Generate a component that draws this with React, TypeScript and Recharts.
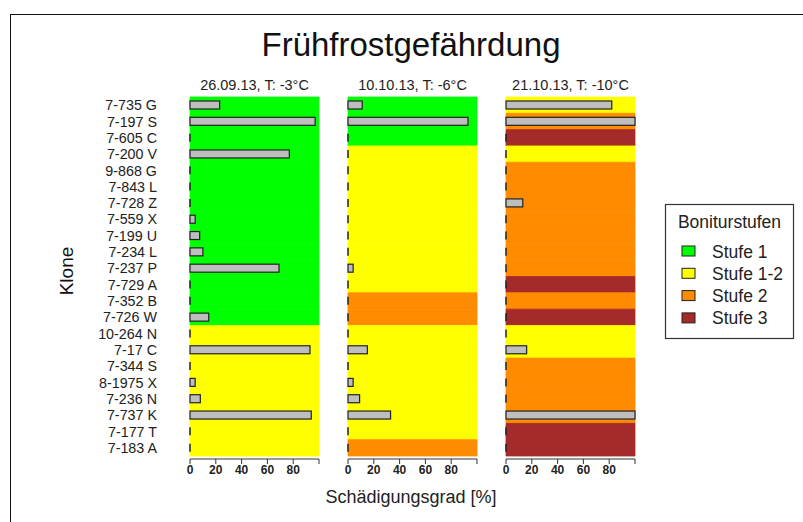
import { BarChart, Bar, XAxis, YAxis, ReferenceArea } from 'recharts';

const klone = [
  '7-735 G', '7-197 S', '7-605 C', '7-200 V', '9-868 G', '7-843 L', '7-728 Z', '7-559 X',
  '7-199 U', '7-234 L', '7-237 P', '7-729 A', '7-352 B', '7-726 W', '10-264 N', '7-17 C',
  '7-344 S', '8-1975 X', '7-236 N', '7-737 K', '7-177 T', '7-183 A',
];

const termine = ['26.09.13, T: -3°C', '10.10.13, T: -6°C', '21.10.13, T: -10°C'];

// Schädigungsgrad in %
const schaden1 = [23, 97, 0, 77, 0, 0, 0, 4, 7.5, 10, 69, 0, 0, 14.5, 0, 93, 0, 4, 8, 94, 0, 0];
const schaden2 = [11, 93, 0, 0, 0, 0, 0, 0, 0, 0, 4, 0, 0, 0, 0, 15, 0, 4, 9, 33, 0, 0];
const schaden3 = [82, 100, 0, 0, 0, 0, 13, 0, 0, 0, 0, 0, 0, 0, 0, 16, 0, 0, 0, 100, 0, 0];

// Boniturstufe je Klon: 0 = Stufe 1, 1 = Stufe 1-2, 2 = Stufe 2, 3 = Stufe 3
const stufe1 = [0, 0, 0, 0, 0, 0, 0, 0, 0, 0, 0, 0, 0, 0, 1, 1, 1, 1, 1, 1, 1, 1];
const stufe2 = [0, 0, 0, 1, 1, 1, 1, 1, 1, 1, 1, 1, 2, 2, 1, 1, 1, 1, 1, 1, 1, 2];
const stufe3 = [1, 2, 3, 1, 2, 2, 2, 2, 2, 2, 2, 3, 2, 3, 1, 1, 2, 2, 2, 2, 3, 3];

const stufenNamen = ['Stufe 1', 'Stufe 1-2', 'Stufe 2', 'Stufe 3'];
const stufenFarben = ['#00ff00', '#ffff00', '#ff8c00', '#a52a2a'];

const xTicks = [0, 20, 40, 60, 80, 100];

const FONT = '"Liberation Sans", Arial, Helvetica, sans-serif';
const W = 803;
const H = 522;
const PLOT_W = 129;
const PLOT_TOP = 97;
const AXIS_Y = 459;

const panels = [
  { titel: termine[0], werte: schaden1, stufen: stufe1, left: 190 },
  { titel: termine[1], werte: schaden2, stufen: stufe2, left: 348 },
  { titel: termine[2], werte: schaden3, stufen: stufe3, left: 506 },
];

const BarShape = (props: any) => {
  const { x, y, width, height } = props;
  if (!width || width < 1) {
    return <line x1={x} x2={x} y1={y} y2={y + height} stroke="#222" strokeWidth={1.5} />;
  }
  return <rect x={x} y={y} width={width} height={height} fill="#bebebe" stroke="#222" strokeWidth={1.2} />;
};

function Panel({ werte, stufen, left, first }: { werte: number[]; stufen: number[]; left: number; first: boolean }) {
  const data = klone.map((k, i) => ({ klon: k, wert: werte[i] }));
  const xAxisHeight = 30;
  return (
    <div style={{ position: 'absolute', left: 0, top: 0 }}>
      <BarChart
        width={W}
        height={H}
        data={data}
        layout="vertical"
        barSize={8}
        margin={{ top: PLOT_TOP, bottom: H - AXIS_Y - xAxisHeight, left: first ? 0 : left, right: W - left - PLOT_W }}
        style={{ fontFamily: FONT }}
      >
        <XAxis
          type="number"
          domain={[0, 100]}
          ticks={xTicks}
          tickFormatter={(v: number) => (v === 100 ? '' : String(v))}
          height={xAxisHeight}
          axisLine={{ stroke: '#333' }}
          tickLine={{ stroke: '#333' }}
          tickSize={5}
          tickMargin={1}
          tick={{ fontSize: 12, fontWeight: 'bold', fill: '#222' }}
        />
        <YAxis
          type="category"
          dataKey="klon"
          hide={!first}
          width={left}
          axisLine={false}
          tickLine={false}
          tickSize={0}
          tickMargin={33}
          interval={0}
          padding={{ top: 0, bottom: 3 }}
          tick={{ fontSize: 14.3, fill: '#222' }}
        />
        {klone.map((k, i) => (
          <ReferenceArea
            key={k}
            y1={k}
            y2={k}
            fill={stufenFarben[stufen[i]]}
            fillOpacity={1}
            stroke={stufenFarben[stufen[i]]}
            strokeWidth={0.8}
            ifOverflow="visible"
          />
        ))}
        <Bar dataKey="wert" shape={BarShape} isAnimationActive={false} />
      </BarChart>
    </div>
  );
}

export default function App() {
  return (
    <div style={{ position: 'relative', width: W, height: H, background: '#fff', overflow: 'hidden', fontFamily: FONT }}>
      <style>{'body{margin:0}'}</style>
      <div style={{ position: 'absolute', left: 10, top: 14, width: 820, height: 540, border: '1.5px solid #111' }} />
      {panels.map((p, i) => (
        <Panel key={p.titel} werte={p.werte} stufen={p.stufen} left={p.left} first={i === 0} />
      ))}
      <svg width={W} height={H} style={{ position: 'absolute', left: 0, top: 0 }} fontFamily={FONT}>
        <text x={411} y={56} textAnchor="middle" fontSize={33} fill="#111">Frühfrostgefährdung</text>
        {panels.map((p) => (
          <text key={p.titel} x={p.left + PLOT_W / 2} y={89.5} textAnchor="middle" fontSize={14.5} fill="#222">
            {p.titel}
          </text>
        ))}
        <text x={411} y={503} textAnchor="middle" fontSize={18} fill="#222">Schädigungsgrad [%]</text>
        <text x={73} y={271} textAnchor="middle" fontSize={19} fill="#111" transform="rotate(-90 73 271)">Klone</text>
        <rect x={665.5} y={204.5} width={128} height={134} fill="#fff" stroke="#333" strokeWidth={1.2} />
        <text x={729.5} y={228} textAnchor="middle" fontSize={17.5} fill="#222">Boniturstufen</text>
        {stufenNamen.map((name, i) => (
          <g key={name}>
            <rect x={682} y={246 + i * 22.3} width={13} height={10} fill={stufenFarben[i]} stroke="#222" strokeWidth={1} />
            <text x={712} y={257.5 + i * 22.3} fontSize={17.5} fill="#222">{name}</text>
          </g>
        ))}
      </svg>
    </div>
  );
}
